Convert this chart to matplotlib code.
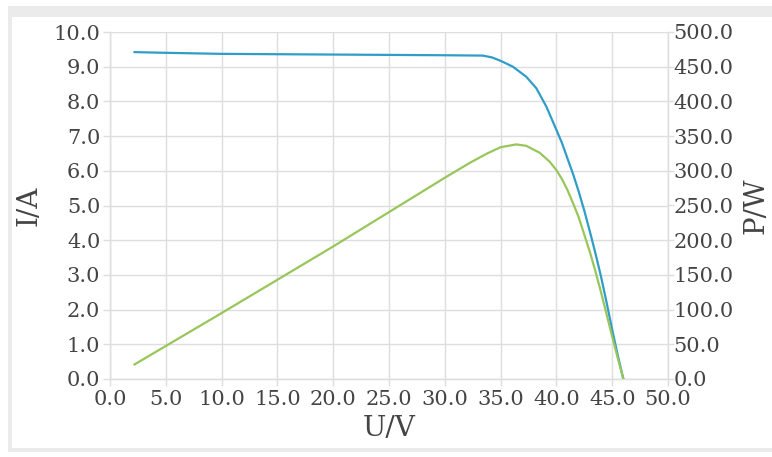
import matplotlib
matplotlib.use("Agg")
import matplotlib.pyplot as plt
from matplotlib.patches import Rectangle
from matplotlib.ticker import FormatStrFormatter

# Data
U = [2.2, 5, 10, 20, 30, 33.4, 34.2, 35.0, 36.1, 37.3, 38.2, 39.1, 40.0, 40.5, 41.0,
     41.5, 42.0, 42.5, 43.0, 43.5, 44.0, 44.5, 45.0, 45.5, 46.0]
I = [9.42, 9.40, 9.37, 9.35, 9.33, 9.32, 9.27, 9.17, 9.00, 8.71, 8.38, 7.85, 7.18, 6.80,
     6.35, 5.90, 5.40, 4.85, 4.25, 3.62, 2.95, 2.20, 1.42, 0.68, 0.0]
UP = [2.2, 10, 20, 30, 32.3, 33.8, 35.0, 36.4, 37.3, 38.5, 39.4, 40.0, 40.5, 41.0,
      41.5, 42.0, 42.3, 43.0, 43.5, 44.0, 44.5, 45.0, 45.5, 46.0]
P = [21, 95, 191, 290, 312, 325, 334, 338, 336, 326, 313, 301, 288, 272,
     253, 233, 218, 183, 155, 125, 93, 61, 30, 0]

x_ticks = [0, 5, 10, 15, 20, 25, 30, 35, 40, 45, 50]
i_ticks = [0, 1, 2, 3, 4, 5, 6, 7, 8, 9, 10]
p_ticks = [0, 50, 100, 150, 200, 250, 300, 350, 400, 450, 500]

W, H = 772, 457
fig = plt.figure(figsize=(W / 100, H / 100), dpi=100)
fig.patch.set_facecolor("white")

# outer gray frame
fig.patches.append(Rectangle((8 / W, 1 - 452 / H), (W - 8) / W, (452 - 6) / H,
                             transform=fig.transFigure, facecolor="#ebebeb",
                             edgecolor="none", zorder=-2))
fig.patches.append(Rectangle((12 / W, 1 - 448 / H), (W - 12) / W, (448 - 17) / H,
                             transform=fig.transFigure, facecolor="white",
                             edgecolor="none", zorder=-1))

font = "DejaVu Serif"
tcol = "#444444"
gcol = "#dedede"

ax = fig.add_axes([110 / W, 1 - 379 / H, (668 - 110) / W, (379 - 32) / H])
ax.set_facecolor("none")
ax.plot(U, I, color="#2f9dc8", lw=1.6, zorder=3)
ax.set_xlim(0, 50)
ax.set_ylim(0, 10)
ax.set_xticks(x_ticks)
ax.set_yticks(i_ticks)
ax.xaxis.set_major_formatter(FormatStrFormatter("%.1f"))
ax.yaxis.set_major_formatter(FormatStrFormatter("%.1f"))
ax.grid(True, color=gcol, lw=1.0)
ax.set_axisbelow(True)
ax.spines["top"].set_visible(False)
for s in ["left", "bottom", "right"]:
    ax.spines[s].set_color(gcol)
    ax.spines[s].set_linewidth(1.0)
ax.tick_params(axis="both", colors=gcol, labelcolor=tcol, labelsize=15, length=5, width=1)
ax.tick_params(axis="x", pad=3)
ax.tick_params(axis="y", pad=2)
for lab in ax.get_xticklabels() + ax.get_yticklabels():
    lab.set_fontfamily(font)
ax.set_xlabel("U/V", fontsize=20, fontfamily=font, color=tcol, labelpad=4)
ax.set_ylabel("I/A", fontsize=20, fontfamily=font, color=tcol, labelpad=8)

ax2 = ax.twinx()
ax2.plot(UP, P, color="#98c65a", lw=1.6, zorder=3)
ax2.set_ylim(0, 500)
ax2.set_yticks(p_ticks)
ax2.yaxis.set_major_formatter(FormatStrFormatter("%.1f"))
ax2.spines["top"].set_visible(False)
for s in ["left", "bottom", "right"]:
    ax2.spines[s].set_color(gcol)
ax2.tick_params(axis="y", colors=gcol, labelcolor=tcol, labelsize=15, length=4, width=1, pad=0)
for lab in ax2.get_yticklabels():
    lab.set_fontfamily(font)
ax2.set_ylabel("P/W", fontsize=20, fontfamily=font, color=tcol, labelpad=6)

fig.savefig("out.png", dpi=100, facecolor="white")
